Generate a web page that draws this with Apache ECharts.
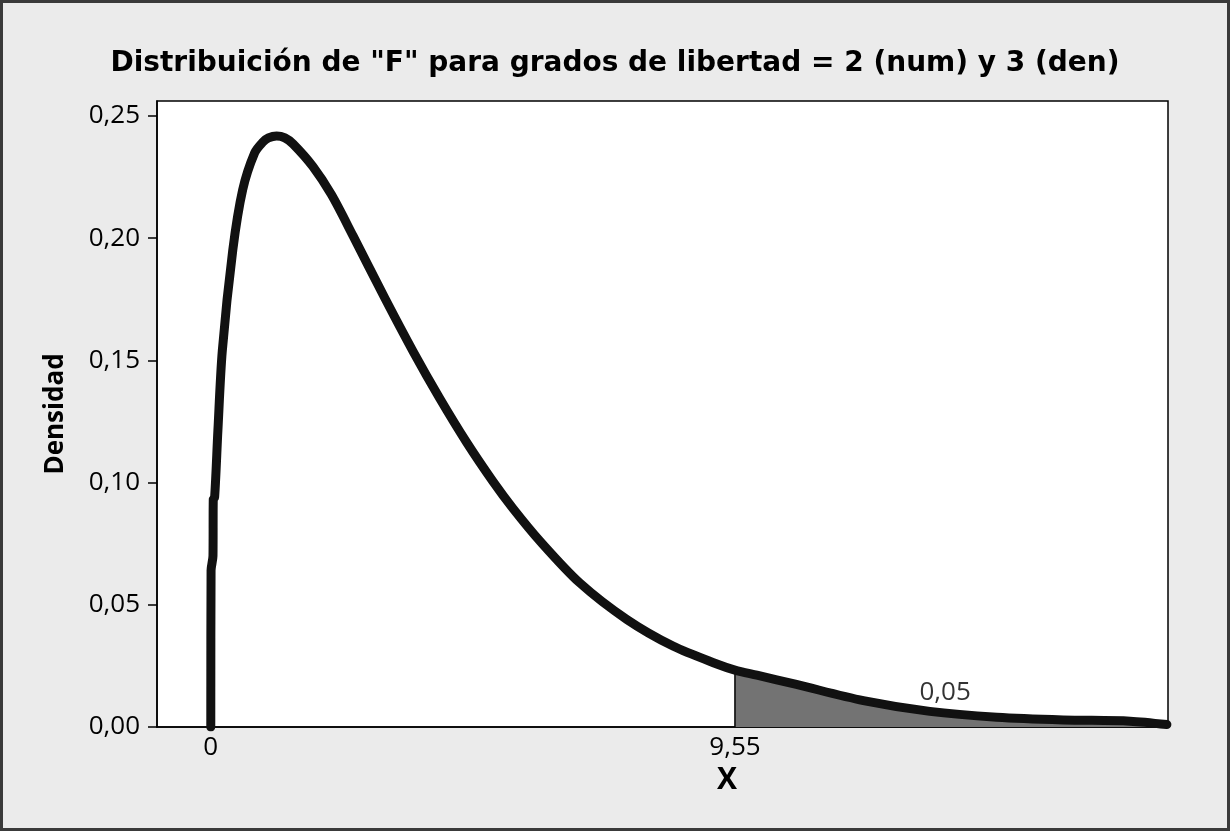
<!DOCTYPE html>
<html><head><meta charset="utf-8">
<script src="https://cdn.jsdelivr.net/npm/echarts@6/dist/echarts.min.js"></script>
<style>html,body{margin:0;padding:0;background:#ebebeb}#c{width:1230px;height:831px}</style>
</head><body><div id="c"></div>
<script>
// Values
const fValues = [0, 0.005, 0.04, 0.045, 0.07, 0.13, 0.21, 0.40, 0.58, 0.80, 0.95, 1.05, 1.20, 1.35, 1.50, 1.86, 2.20, 2.59, 3.17, 3.69, 4.17, 4.66, 5.14, 5.51, 6.00, 6.72, 7.58, 8.43, 9.22, 9.55, 9.95, 10.67, 11.89, 13.10, 14.32, 15.53, 16.75, 17.42];
const density = [0, 0.064, 0.070, 0.093, 0.094, 0.1215, 0.154, 0.195, 0.2197, 0.2349, 0.2393, 0.2410, 0.2418, 0.2410, 0.2385, 0.2293, 0.2177, 0.2010, 0.1755, 0.1535, 0.1345, 0.1165, 0.1005, 0.0893, 0.0760, 0.0590, 0.0440, 0.0330, 0.0258, 0.0233, 0.0212, 0.0174, 0.0108, 0.0064, 0.0040, 0.0029, 0.0024, 0.0010];
const criticalValue = 9.55;
const tailProbLabel = "0,05";
const tailLabelPos = [13.38, 0.0139];
const yTicks = [0, 0.05, 0.10, 0.15, 0.20, 0.25];
const xTicks = [0, 9.55];
const titleText = 'Distribuición de "F" para grados de libertad = 2 (num) y 3 (den)';
const yName = 'Densidad';
const xName = 'X';

const curve = fValues.map((x, i) => [x, density[i]]);
const tail = curve.filter(p => p[0] >= criticalValue);
const critIdx = fValues.indexOf(criticalValue);
const boundary = [[criticalValue, 0], [criticalValue, density[critIdx]]];

const FONT = '"Open Sans"';
const chart = echarts.init(document.getElementById('c'), null, {renderer: 'canvas'});
chart.setOption({
  backgroundColor: '#ebebeb',
  animation: false,
  title: {
    text: titleText, left: 'center', top: 45,
    textStyle: {fontFamily: '"DejaVu Sans"', fontWeight: 'bold', fontSize: 28, color: '#000'}
  },
  grid: {left: 157, right: 62, top: 101, bottom: 104, show: true, backgroundColor: '#fff', borderColor: '#000', borderWidth: 1.5},
  xAxis: {
    type: 'value', min: -0.98, max: 17.44,
    axisLine: {show: true, onZero: false, lineStyle: {color: '#000', width: 1.5}},
    axisTick: {show: false},
    splitLine: {show: false},
    axisLabel: {
      customValues: xTicks, margin: 8, fontFamily: FONT, fontSize: 26, color: '#000',
      formatter: v => String(v).replace('.', ',')
    }
  },
  yAxis: {
    type: 'value', min: 0, max: 0.2561,
    name: yName, nameLocation: 'middle', nameGap: 88, nameRotate: 90,
    nameTextStyle: {fontFamily: FONT, fontWeight: 'bold', fontSize: 26, color: '#000'},
    axisLine: {show: true, onZero: false, lineStyle: {color: '#000', width: 1.5}},
    axisTick: {show: true, customValues: yTicks, length: 9, lineStyle: {color: '#000', width: 1.5}},
    splitLine: {show: false},
    axisLabel: {
      customValues: yTicks, margin: 17, fontFamily: FONT, fontSize: 26, color: '#000',
      formatter: v => v.toFixed(2).replace('.', ',')
    }
  },
  graphic: [
    {type: 'rect', shape: {x: 1.5, y: 1.5, width: 1227, height: 828}, style: {fill: null, stroke: '#3a3a3a', lineWidth: 3}, silent: true},
    {type: 'text', style: {text: xName, x: 727, y: 780, textAlign: 'center', textVerticalAlign: 'middle', font: 'bold 30px "Open Sans"', fill: '#000'}}
  ],
  series: [
    {type: 'line', data: tail, showSymbol: false, smooth: 0.3, lineStyle: {width: 0}, areaStyle: {color: '#737373', opacity: 1}, z: 1},
    {type: 'line', data: boundary, showSymbol: false, lineStyle: {width: 1.5, color: '#000'}, z: 2},
    {type: 'line', data: curve, showSymbol: false, smooth: 0.3, lineStyle: {width: 9, color: '#111', cap: 'round', join: 'round'}, z: 3},
    {type: 'scatter', data: [tailLabelPos], symbolSize: 0, z: 4,
      label: {show: true, position: 'inside', formatter: tailProbLabel, fontFamily: FONT, fontSize: 26, color: '#000'}}
  ]
});
</script></body></html>
